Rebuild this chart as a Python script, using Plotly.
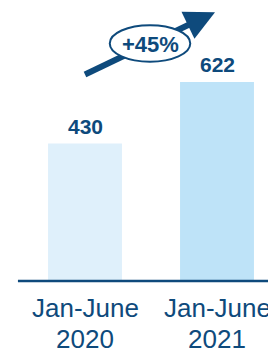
import plotly.graph_objects as go

categories = ["Jan-June 2020", "Jan-June 2021"]
values = [430, 622]
value_labels = ["430", "622"]
growth_label = "+45%"

DARK = "#0e4a7c"
FONT = "Liberation Sans, Arial"
bar_colors = ["#dff0fb", "#bee3f8"]
xpos = [0, 1]

fig = go.Figure()
fig.add_trace(go.Bar(
    x=xpos, y=values, marker=dict(color=bar_colors, line=dict(width=0)),
    width=0.56, hoverinfo="skip",
))

# value labels above bars
for x, v, t in zip(xpos, values, value_labels):
    fig.add_annotation(x=x, y=v, xref="x", yref="y", text="<b>" + t + "</b>", showarrow=False,
                       yanchor="middle", yshift=17,
                       font=dict(family=FONT, size=21, color=DARK))

# category labels (two lines)
for x, c in zip(xpos, categories):
    line1, line2 = c.rsplit(" ", 1)
    fig.add_annotation(x=x, y=0, xref="x", yref="paper", text=line1, showarrow=False,
                       yanchor="middle", yshift=-27, font=dict(family=FONT, size=26, color=DARK))
    fig.add_annotation(x=x, y=0, xref="x", yref="paper", text=line2, showarrow=False,
                       yanchor="middle", yshift=-58, font=dict(family=FONT, size=26, color=DARK))

# baseline
fig.add_shape(type="line", xref="x", yref="paper", x0=-0.508, x1=1.5, y0=0, y1=0,
              line=dict(color=DARK, width=2.5), layer="above")

# growth arrow, derived from data
x0, y0 = xpos[0], values[0] * 1.5
x1, y1 = xpos[1] - 0.015, values[1] * 1.35
slope = (y1 - y0) / (x1 - x0)
xm, ym = x0 + (x1 - x0) * 0.5, y0 + (y1 - y0) * 0.5
fig.add_shape(type="line", x0=x0, y0=y0, x1=x1 - 0.1, y1=y1 - 0.1 * slope,
              line=dict(color=DARK, width=6), layer="above")
fig.add_shape(type="circle", x0=xm - 0.305, x1=xm + 0.305, y0=ym - 57, y1=ym + 57,
              fillcolor="white", line=dict(color=DARK, width=2), layer="above")
fig.add_annotation(x=x1, y=y1, ax=x1 - 0.2, ay=y1 - 0.2 * slope,
                   xref="x", yref="y", axref="x", ayref="y", text="", showarrow=True,
                   arrowhead=2, arrowsize=1.0, arrowwidth=6, arrowcolor=DARK)
fig.add_annotation(x=xm, y=ym, xref="x", yref="y", text="<b>" + growth_label + "</b>", showarrow=False,
                   yshift=-1, font=dict(family=FONT, size=22, color=DARK))

fig.update_layout(
    width=268, height=350, margin=dict(l=0, r=0, t=0, b=69),
    plot_bgcolor="white", paper_bgcolor="white", showlegend=False,
    font=dict(family=FONT, color=DARK),
)
fig.update_xaxes(range=[-85 / 132, 183 / 132], visible=False, showgrid=False, zeroline=False)
fig.update_yaxes(range=[0, 878], visible=False, showgrid=False, zeroline=False)
fig.write_html("out.html", config={"displayModeBar": False, "staticPlot": True},
               post_script="document.body.style.margin='0';")
